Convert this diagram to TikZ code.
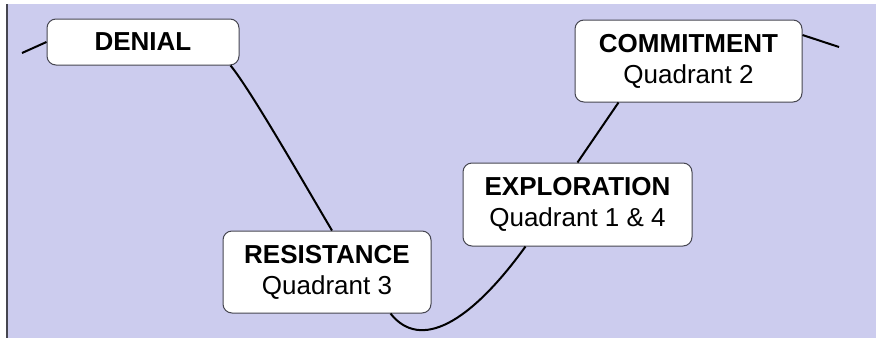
\documentclass[tikz,border=0pt]{standalone}
\usepackage{fontspec}
\setmainfont{Liberation Sans}
\usepackage{tikz}

\definecolor{lavender}{RGB}{204,204,238}
\definecolor{frame}{RGB}{70,70,80}

\begin{document}
\begin{tikzpicture}[x=1pt, y=-1pt,
	every node/.style={font=\fontsize{26}{31}\selectfont},
	stage/.style={draw=frame, line width=1pt, fill=white, rounded corners=9pt, align=center, inner sep=0pt},
	wave/.style={line width=2pt, black}]
	\useasboundingbox (0,0) rectangle (876,338);
	\fill[lavender] (7,4) rectangle (876,338);
	\draw[frame, line width=2pt] (7,4) -- (7,338);
	% stages of change
	\node[stage, minimum width=192pt, minimum height=46pt] (denial) at (143,42) {\textbf{DENIAL}};
	\node[stage, minimum width=208pt, minimum height=82pt] (resistance) at (327,272) {\textbf{RESISTANCE}\\Quadrant 3};
	\node[stage, minimum width=229pt, minimum height=83pt] (exploration) at (577.5,204.5) {\textbf{EXPLORATION}\\Quadrant 1 \& 4};
	\node[stage, minimum width=227pt, minimum height=82pt] (commitment) at (688.5,61) {\textbf{COMMITMENT}\\Quadrant 2};
	\coordinate (lstart) at (22,53);
	\coordinate (rend) at (839,47);
	% the curve
	\draw[wave] (lstart) -- (denial.west);
	\draw[wave] ([xshift=-9pt]denial.south east) .. controls +(20,24) and +(-25,-42) .. ([xshift=5pt]resistance.north);
	\draw[wave] ([xshift=-41pt]resistance.south east) .. controls +(30,38) and +(-55,76) .. ([xshift=-52pt]exploration.south);
	\draw[wave] (exploration.north) -- ([xshift=-70pt]commitment.south);
	\draw[wave] ([yshift=26pt]commitment.east) -- (rend);
\end{tikzpicture}
\end{document}
